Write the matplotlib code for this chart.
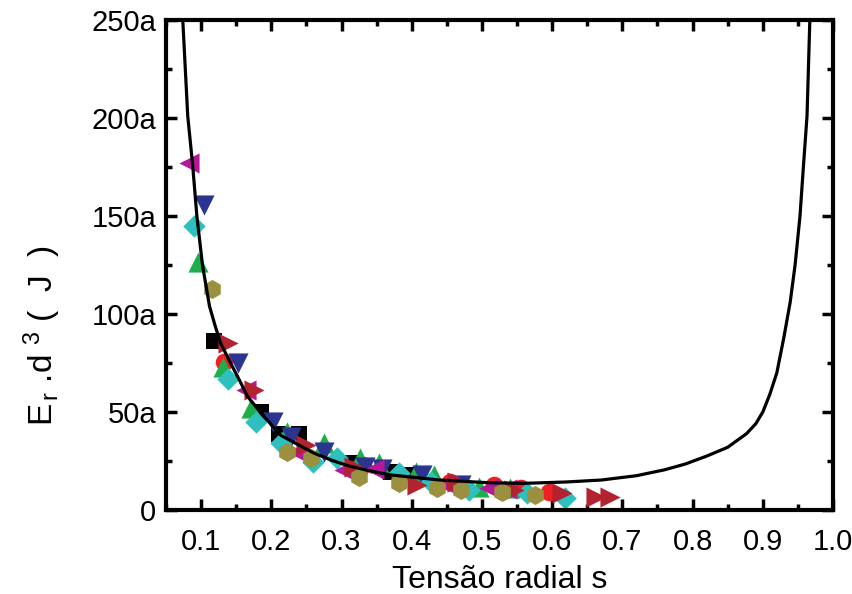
import matplotlib
matplotlib.use('Agg')
import matplotlib.pyplot as plt
from matplotlib.ticker import MultipleLocator

plt.rcParams['font.family'] = ['Liberation Sans', 'DejaVu Sans']
plt.rcParams['mathtext.fontset'] = 'custom'
plt.rcParams['mathtext.rm'] = 'Liberation Sans'
plt.rcParams['mathtext.it'] = 'Liberation Sans'

# black fitted curve
curve_s = [0.072, 0.0738, 0.081, 0.088, 0.094, 0.102, 0.112, 0.12, 0.128, 0.142,
           0.155, 0.166, 0.19, 0.214, 0.24, 0.261, 0.285, 0.31, 0.34, 0.37,
           0.44, 0.51, 0.56, 0.62, 0.67, 0.72, 0.76, 0.79, 0.82, 0.85,
           0.877, 0.89, 0.9, 0.91, 0.92, 0.93, 0.939, 0.946, 0.953, 0.958,
           0.963, 0.967, 0.968]
curve_v = [262, 251, 201, 176, 150, 125, 104, 94, 85, 75,
           66, 58, 47.5, 38, 33, 29, 25.5, 22.5, 20, 17.9,
           15.3, 13.9, 13.6, 14.3, 15.3, 17.5, 20.5, 23.5, 27.5, 32,
           39, 44, 50, 59, 70, 88, 106, 125, 150, 176,
           201, 250, 262]

# measured points, one list per series
sq_s = [0.119, 0.185, 0.211, 0.240, 0.316, 0.37, 0.401]
sq_v = [86, 50, 39, 39, 24, 19.5, 17.9]

ci_s = [0.133, 0.33, 0.455, 0.517, 0.555, 0.595]
ci_v = [75.7, 23, 14.5, 12.8, 11, 9.3]

up_s = [0.095, 0.131, 0.171, 0.223, 0.275, 0.327, 0.353, 0.406, 0.432, 0.496, 0.54]
up_v = [126.7, 73, 52, 40, 34, 26.4, 23.8, 19.5, 17.9, 11.9, 11]

dn_s = [0.1045, 0.152, 0.202, 0.228, 0.275, 0.334, 0.358, 0.415, 0.47]
dn_v = [155.6, 75, 45, 37.4, 29.8, 22, 21, 17.9, 13]

di_s = [0.057, 0.090, 0.138, 0.178, 0.214, 0.259, 0.294, 0.382, 0.427, 0.481, 0.564, 0.619]
di_v = [256, 145, 67, 45, 34, 24.6, 26.4, 18.7, 14.5, 10.2, 8.5, 6]

lt_s = [0.083, 0.164, 0.237, 0.304, 0.346, 0.451, 0.51, 0.535]
lt_v = [177, 61, 29.8, 20.4, 21, 12.8, 11, 10.5]

rt_s = [0.138, 0.176, 0.249, 0.318, 0.408, 0.465, 0.545, 0.614, 0.662, 0.683]
rt_v = [85, 61, 33, 22, 12.8, 14.5, 10.2, 8.5, 6.8, 6.8]

hx_s = [0.116, 0.223, 0.256, 0.325, 0.382, 0.436, 0.47, 0.529, 0.576]
hx_v = [113, 29.8, 26.4, 17, 13.6, 11, 10.2, 9.3, 7.6]

xticks = [0.1, 0.2, 0.3, 0.4, 0.5, 0.6, 0.7, 0.8, 0.9, 1.0]
xticklabels = ['0.1', '0.2', '0.3', '0.4', '0.5', '0.6', '0.7', '0.8', '0.9', '1.0']
yticks = [0, 50, 100, 150, 200, 250]
yticklabels = ['0', '50a', '100a', '150a', '200a', '250a']

fig = plt.figure(figsize=(8.52, 5.94), dpi=100)
ax = fig.add_axes([0.1948, 0.1414, 0.7829, 0.8249])

series = [
    (sq_s, sq_v, 's', '#000000', 120),
    (ci_s, ci_v, 'o', '#ee2026', 160),
    (up_s, up_v, '^', '#1fae4b', 210),
    (dn_s, dn_v, 'v', '#2b3590', 210),
    (di_s, di_v, 'D', '#2ebfbf', 130),
    (lt_s, lt_v, '<', '#b4199a', 210),
    (rt_s, rt_v, '>', '#b2232f', 210),
    (hx_s, hx_v, 'h', '#9b9040', 190),
]
for s, v, m, c, size in series:
    ax.scatter(s, v, marker=m, c=c, s=size, linewidths=0, zorder=2)

ax.plot(curve_s, curve_v, c='k', lw=2.3, zorder=3)

ax.set_xlim(0.05, 1.0)
ax.set_ylim(0, 250)
ax.xaxis.set_minor_locator(MultipleLocator(0.05))
ax.yaxis.set_minor_locator(MultipleLocator(25))
ax.set_xticks(xticks)
ax.set_xticklabels(xticklabels)
ax.set_yticks(yticks)
ax.set_yticklabels(yticklabels)

ax.tick_params(which='both', direction='in', top=True, right=True, width=2.5,
               labelsize=21)
ax.tick_params(axis='x', pad=13)
ax.tick_params(axis='y', pad=7)
ax.tick_params(which='major', length=8)
ax.tick_params(which='minor', length=4)
for sp in ax.spines.values():
    sp.set_linewidth(3)

ax.set_xlabel('Tensão radial s', fontsize=23)
ax.xaxis.set_label_coords(0.5, -0.112)
ax.set_ylabel(r'E$_{\,r}$ .d $^3$ (  J  )', fontsize=24)
ax.yaxis.set_label_coords(-0.155, 0.355)

fig.savefig('out.png', dpi=100)
